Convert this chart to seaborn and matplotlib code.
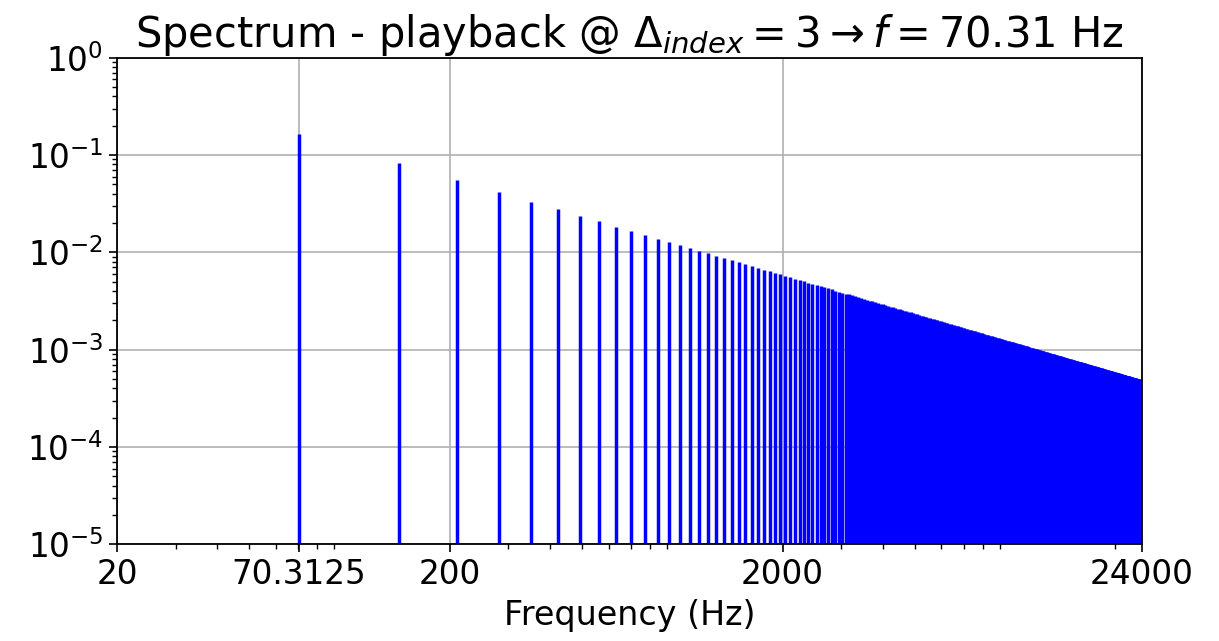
import numpy as np
import pandas as pd
import matplotlib
matplotlib.use("Agg")
import matplotlib.pyplot as plt
import seaborn as sns

# ---- data ----
fundamental_hz = 70.3125
harmonic_number = list(range(1, 342))
# amplitude of each harmonic line, in units of 1e-4
amplitude_e4 = [
    1660, 830, 553, 415, 332, 277, 237, 208, 184, 166,
    151, 138, 128, 119, 111, 104, 97.6, 92.2, 87.4, 83.0,
    79.0, 75.5, 72.2, 69.2, 66.4, 63.8, 61.5, 59.3, 57.2, 55.3,
    53.5, 51.9, 50.3, 48.8, 47.4, 46.1, 44.9, 43.7, 42.6, 41.5,
    40.5, 39.5, 38.6, 37.7, 36.9, 36.1, 35.3, 34.6, 33.9, 33.2,
    32.5, 31.9, 31.3, 30.7, 30.2, 29.6, 29.1, 28.6, 28.1, 27.7,
    27.2, 26.8, 26.3, 25.9, 25.5, 25.2, 24.8, 24.4, 24.1, 23.7,
    23.4, 23.1, 22.7, 22.4, 22.1, 21.8, 21.6, 21.3, 21.0, 20.8,
    20.5, 20.2, 20.0, 19.8, 19.5, 19.3, 19.1, 18.9, 18.7, 18.4,
    18.2, 18.0, 17.8, 17.7, 17.5, 17.3, 17.1, 16.9, 16.8, 16.6,
    16.4, 16.3, 16.1, 16.0, 15.8, 15.7, 15.5, 15.4, 15.2, 15.1,
    15.0, 14.8, 14.7, 14.6, 14.4, 14.3, 14.2, 14.1, 13.9, 13.8,
    13.7, 13.6, 13.5, 13.4, 13.3, 13.2, 13.1, 13.0, 12.9, 12.8,
    12.7, 12.6, 12.5, 12.4, 12.3, 12.2, 12.1, 12.0, 11.9, 11.9,
    11.8, 11.7, 11.6, 11.5, 11.4, 11.4, 11.3, 11.2, 11.1, 11.1,
    11.0, 10.9, 10.8, 10.8, 10.7, 10.6, 10.6, 10.5, 10.4, 10.4,
    10.3, 10.2, 10.2, 10.1, 10.1, 10.0, 9.94, 9.88, 9.82, 9.76,
    9.71, 9.65, 9.60, 9.54, 9.49, 9.43, 9.38, 9.33, 9.27, 9.22,
    9.17, 9.12, 9.07, 9.02, 8.97, 8.92, 8.88, 8.83, 8.78, 8.74,
    8.69, 8.65, 8.60, 8.56, 8.51, 8.47, 8.43, 8.38, 8.34, 8.30,
    8.26, 8.22, 8.18, 8.14, 8.10, 8.06, 8.02, 7.98, 7.94, 7.90,
    7.87, 7.83, 7.79, 7.76, 7.72, 7.69, 7.65, 7.61, 7.58, 7.55,
    7.51, 7.48, 7.44, 7.41, 7.38, 7.35, 7.31, 7.28, 7.25, 7.22,
    7.19, 7.16, 7.12, 7.09, 7.06, 7.03, 7.00, 6.97, 6.95, 6.92,
    6.89, 6.86, 6.83, 6.80, 6.78, 6.75, 6.72, 6.69, 6.67, 6.64,
    6.61, 6.59, 6.56, 6.54, 6.51, 6.48, 6.46, 6.43, 6.41, 6.38,
    6.36, 6.34, 6.31, 6.29, 6.26, 6.24, 6.22, 6.19, 6.17, 6.15,
    6.13, 6.10, 6.08, 6.06, 6.04, 6.01, 5.99, 5.97, 5.95, 5.93,
    5.91, 5.89, 5.87, 5.85, 5.82, 5.80, 5.78, 5.76, 5.74, 5.72,
    5.70, 5.68, 5.67, 5.65, 5.63, 5.61, 5.59, 5.57, 5.55, 5.53,
    5.51, 5.50, 5.48, 5.46, 5.44, 5.42, 5.41, 5.39, 5.37, 5.35,
    5.34, 5.32, 5.30, 5.29, 5.27, 5.25, 5.24, 5.22, 5.20, 5.19,
    5.17, 5.16, 5.14, 5.12, 5.11, 5.09, 5.08, 5.06, 5.05, 5.03,
    5.02, 5.00, 4.98, 4.97, 4.96, 4.94, 4.93, 4.91, 4.90, 4.88,
    4.87,
]
x_tick_values = [20, 70.3125, 200, 2000, 24000]
x_tick_labels = ["20", "70.3125", "200", "2000", "24000"]
title_text = r"Spectrum - playback @ $\Delta_{index} = 3 \rightarrow f = 70.31$ Hz"
x_label = "Frequency (Hz)"

df = pd.DataFrame({
    "harmonic": harmonic_number,
    "amp": np.array(amplitude_e4) * 1e-4,
})
df["freq"] = df["harmonic"] * fundamental_hz

# ---- style ----
sns.set_theme(style="ticks", rc={
    "axes.edgecolor": "black",
    "axes.linewidth": 1.3,
    "text.color": "black",
    "axes.labelcolor": "black",
    "xtick.color": "black",
    "ytick.color": "black",
    "xtick.major.size": 6,
    "ytick.major.size": 6,
    "xtick.minor.size": 3.5,
    "ytick.minor.size": 3.5,
    "xtick.major.width": 1.2,
    "ytick.major.width": 1.2,
    "xtick.minor.width": 1.0,
    "ytick.minor.width": 1.0,
    "axes.grid": True,
    "grid.color": "#b0b0b0",
    "grid.linewidth": 1.2,
})
plt.rcParams["font.family"] = ["DejaVu Sans"]

fig = plt.figure(figsize=(12.19, 6.41), dpi=100)
ax = fig.add_axes([0.0960, 0.1509, 0.8405, 0.7591])

ax.vlines(df["freq"], 1e-5, df["amp"], color="blue", linewidth=2.5)

ax.set_xscale("log")
ax.set_yscale("log")
ax.set_xlim(20, 24000)
ax.set_ylim(1e-5, 1e0)
ax.set_xticks(x_tick_values)
ax.set_xticklabels(x_tick_labels)
ax.grid(True, which="major", color="#b0b0b0", linewidth=1.2)
ax.grid(False, which="minor")
for sp in ax.spines.values():
    sp.set_visible(True)
    sp.set_color("black")

ax.tick_params(axis="both", which="major", labelsize=23.5, pad=4)
ax.set_xlabel(x_label, fontsize=24, labelpad=6)
ax.set_title(title_text, fontsize=30, pad=6)

fig.savefig("out.png", dpi=100)
